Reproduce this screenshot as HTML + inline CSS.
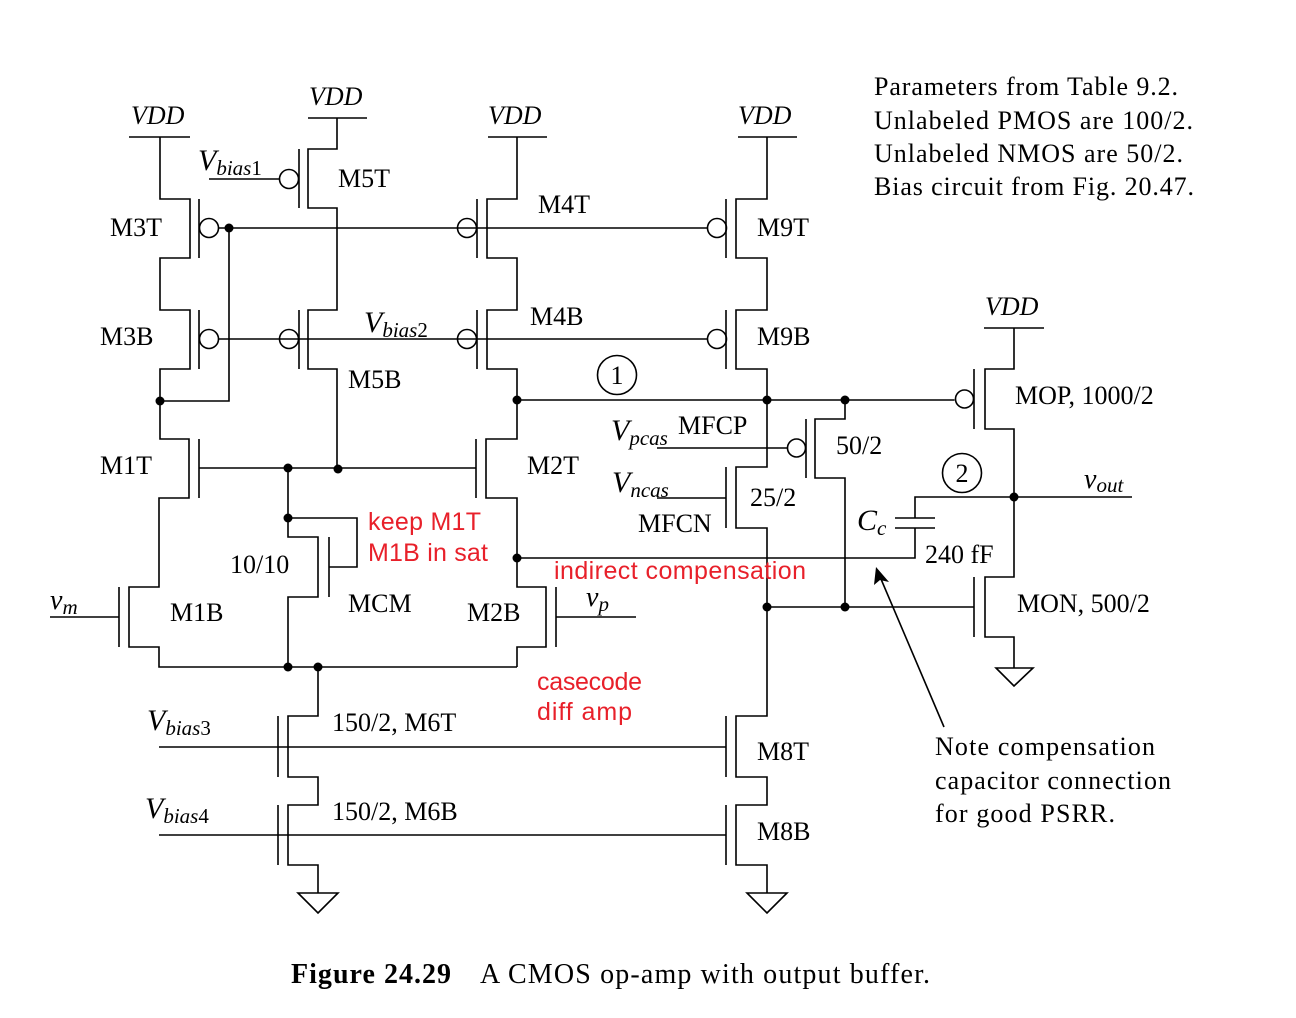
<!DOCTYPE html>
<html><head><meta charset="utf-8"><style>
html,body{margin:0;padding:0;background:#fff;}
svg{display:block;}
text{font-family:"Liberation Serif",serif;fill:#000;}
.r{font-family:"Liberation Sans",sans-serif;fill:#e8202a;font-size:25px;}
.l{font-size:26px;}
.i{font-style:italic;}
</style></head><body>
<svg width="1296" height="1018" viewBox="0 0 1296 1018" xmlns="http://www.w3.org/2000/svg">
<g fill="none" stroke="#000" stroke-width="1.6">
<line x1="129" y1="137" x2="190" y2="137"/>
<line x1="308" y1="118" x2="367" y2="118"/>
<line x1="488" y1="137" x2="547" y2="137"/>
<line x1="738" y1="137" x2="797" y2="137"/>
<line x1="984" y1="328" x2="1044" y2="328"/>
<polyline points="160,137 160,199 190,199 190,258 160,258 160,310 190,310 190,369 160,369 160,439 189,439 189,498 159,498 159,587 129,587 129,647 159,647 159,667 517,667"/>
<line x1="199" y1="199" x2="199" y2="258"/>
<line x1="199" y1="310" x2="199" y2="369"/>
<circle cx="209" cy="228" r="9.5"/>
<circle cx="209" cy="339" r="9.5"/>
<polyline points="160,401 229,401 229,228"/>
<polyline points="337,118 337,149 308,149 308,208 337,208 337,310 308,310 308,369 337,369 337,468"/>
<line x1="299" y1="149" x2="299" y2="208"/>
<line x1="299" y1="310" x2="299" y2="369"/>
<circle cx="289" cy="179" r="9.5"/>
<circle cx="289" cy="339" r="9.5"/>
<line x1="209" y1="179" x2="279.5" y2="179"/>
<line x1="218.5" y1="228" x2="707.5" y2="228"/>
<line x1="218.5" y1="339" x2="707.5" y2="339"/>
<polyline points="517,137 517,199 487,199 487,258 517,258 517,310 487,310 487,369 517,369 517,439 486,439 486,498 517,498 517,587 546,587 546,647 517,647 517,667"/>
<line x1="477" y1="199" x2="477" y2="258"/>
<line x1="477" y1="310" x2="477" y2="369"/>
<circle cx="467" cy="228" r="9.5"/>
<circle cx="467" cy="339" r="9.5"/>
<polyline points="767,137 767,199 736,199 736,258 767,258 767,310 736,310 736,369 767,369 767,467 736,467 736,528 767,528 767,716 736,716 736,777 767,777 767,805 736,805 736,865 767,865 767,893"/>
<line x1="726" y1="199" x2="726" y2="258"/>
<line x1="726" y1="310" x2="726" y2="369"/>
<line x1="726" y1="467" x2="726" y2="528"/>
<line x1="726" y1="716" x2="726" y2="777"/>
<line x1="726" y1="805" x2="726" y2="865"/>
<circle cx="717" cy="228" r="9.5"/>
<circle cx="717" cy="339" r="9.5"/>
<line x1="517" y1="400" x2="954.5" y2="400"/>
<circle cx="617" cy="375" r="19.5"/>
<polyline points="845,400 845,419 815,419 815,478 845,478 845,607"/>
<line x1="806" y1="419" x2="806" y2="478"/>
<circle cx="796.5" cy="448" r="9"/>
<line x1="657" y1="448" x2="787.5" y2="448"/>
<line x1="657" y1="498" x2="726" y2="498"/>
<polyline points="1014,328 1014,369 985,369 985,429 1014,429 1014,577 985,577 985,637 1014,637 1014,668"/>
<line x1="974" y1="369" x2="974" y2="429"/>
<circle cx="964.5" cy="399" r="9"/>
<line x1="974" y1="577" x2="974" y2="637"/>
<line x1="767" y1="607" x2="974" y2="607"/>
<polygon points="996,668 1033,668 1014,686"/>
<line x1="1014" y1="497" x2="1132" y2="497"/>
<circle cx="962" cy="473" r="19.5"/>
<polyline points="1014,497 915,497 915,518"/>
<line x1="895" y1="518" x2="935" y2="518"/>
<line x1="895" y1="528" x2="935" y2="528"/>
<polyline points="915,528 915,558 517,558"/>
<line x1="199" y1="439" x2="199" y2="498"/>
<line x1="476" y1="439" x2="476" y2="498"/>
<line x1="199" y1="468" x2="476" y2="468"/>
<line x1="119" y1="587" x2="119" y2="647"/>
<line x1="50" y1="617" x2="119" y2="617"/>
<line x1="556" y1="587" x2="556" y2="647"/>
<line x1="556" y1="617" x2="636" y2="617"/>
<polyline points="288,468 288,537 318,537 318,597 288,597 288,667"/>
<line x1="329" y1="537" x2="329" y2="597"/>
<polyline points="288,518 357,518 357,567 329,567"/>
<polyline points="318,667 318,716 288,716 288,777 318,777 318,805 288,805 288,865 318,865 318,893"/>
<line x1="278" y1="716" x2="278" y2="777"/>
<line x1="278" y1="805" x2="278" y2="865"/>
<line x1="159" y1="747" x2="726" y2="747"/>
<line x1="159" y1="835" x2="726" y2="835"/>
<polygon points="298,893 338,893 318,913"/>
<polygon points="747,893 787,893 767,913"/>
<line x1="944" y1="727" x2="878" y2="572"/>
</g>
<polygon points="876,567 874,585 880,580 889,582" fill="#000"/>
<g fill="#000">
<circle cx="229" cy="228" r="4.5"/><circle cx="160" cy="401" r="4.5"/><circle cx="517" cy="400" r="4.5"/>
<circle cx="767" cy="400" r="4.5"/><circle cx="845" cy="400" r="4.5"/><circle cx="1014" cy="497" r="4.5"/>
<circle cx="517" cy="558" r="4.5"/><circle cx="767" cy="607" r="4.5"/><circle cx="845" cy="607" r="4.5"/>
<circle cx="288" cy="468" r="4.5"/><circle cx="338" cy="469" r="4.5"/><circle cx="288" cy="518" r="4.5"/>
<circle cx="288" cy="667" r="4.5"/><circle cx="318" cy="667" r="4.5"/>
</g>
<g class="l i">
<text x="131" y="124">VDD</text><text x="309" y="105">VDD</text><text x="488" y="124">VDD</text>
<text x="738" y="124">VDD</text><text x="985" y="315">VDD</text>
</g>
<text x="617" y="384" class="l" text-anchor="middle">1</text>
<text x="962" y="482" class="l" text-anchor="middle">2</text>
<g class="l">
<text x="110" y="236">M3T</text><text x="100" y="345">M3B</text>
<text x="338" y="187">M5T</text><text x="348" y="388">M5B</text>
<text x="538" y="213">M4T</text><text x="530" y="325">M4B</text>
<text x="757" y="236">M9T</text><text x="757" y="345">M9B</text>
<text x="100" y="474">M1T</text><text x="527" y="474">M2T</text>
<text x="170" y="621">M1B</text><text x="467" y="621">M2B</text>
<text x="348" y="612">MCM</text><text x="230" y="573">10/10</text>
<text x="332" y="731">150/2, M6T</text><text x="332" y="820">150/2, M6B</text>
<text x="757" y="760">M8T</text><text x="757" y="840">M8B</text>
<text x="678" y="434">MFCP</text><text x="836" y="454">50/2</text>
<text x="750" y="506">25/2</text><text x="638" y="532">MFCN</text>
<text x="925" y="563">240 fF</text>
<text x="1015" y="404">MOP, 1000/2</text>
<text x="1017" y="612">MON, 500/2</text>
<text x="874" y="95" textLength="304">Parameters from Table 9.2.</text>
<text x="874" y="129" textLength="319">Unlabeled PMOS are 100/2.</text>
<text x="874" y="162" textLength="309">Unlabeled NMOS are 50/2.</text>
<text x="874" y="195" textLength="320">Bias circuit from Fig. 20.47.</text>
<text x="935" y="755" textLength="220">Note compensation</text>
<text x="935" y="789" textLength="236">capacitor connection</text>
<text x="935" y="822" textLength="180">for good PSRR.</text>
</g>
<g class="i">
<text x="198" y="170" font-size="30">V<tspan font-size="21" dy="5">bias</tspan><tspan font-size="21" font-style="normal">1</tspan></text>
<text x="364" y="332" font-size="30">V<tspan font-size="21" dy="5">bias</tspan><tspan font-size="21" font-style="normal">2</tspan></text>
<text x="147" y="730" font-size="30">V<tspan font-size="21" dy="5">bias</tspan><tspan font-size="21" font-style="normal">3</tspan></text>
<text x="145" y="818" font-size="30">V<tspan font-size="21" dy="5">bias</tspan><tspan font-size="21" font-style="normal">4</tspan></text>
<text x="611" y="440" font-size="30">V<tspan font-size="21" dy="5">pcas</tspan></text>
<text x="612" y="492" font-size="30">V<tspan font-size="21" dy="5">ncas</tspan></text>
<text x="857" y="530" font-size="30">C<tspan font-size="21" dy="5">c</tspan></text>
<text x="50" y="609" font-size="28">v<tspan font-size="21" dy="5">m</tspan></text>
<text x="586" y="606" font-size="28">v<tspan font-size="21" dy="5">p</tspan></text>
<text x="1084" y="488" font-size="28">v<tspan font-size="21" dy="4">out</tspan></text>
</g>
<text class="r" x="368" y="530" textLength="113">keep M1T</text>
<text class="r" x="368" y="561" textLength="120">M1B in sat</text>
<text class="r" x="554" y="579" textLength="252">indirect compensation</text>
<text class="r" x="537" y="690" textLength="105">casecode</text>
<text class="r" x="537" y="720" textLength="95">diff amp</text>
<text x="291" y="983" font-size="28" font-weight="bold" textLength="160">Figure 24.29</text>
<text x="480" y="983" font-size="28" textLength="450">A CMOS op-amp with output buffer.</text>
</svg>
</body></html>
